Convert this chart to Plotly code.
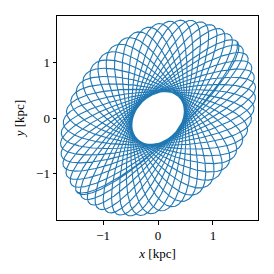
import numpy as np
import plotly.graph_objects as go

# Orbit description (kpc, degrees)
outer_axes = [2.00, 1.52]      # outer envelope semi-axes (along tilt, across tilt)
outer_tilt = [45.0]            # tilt of the orbit's long axis
hole_fraction = [0.27]         # inner hole size relative to the outer envelope
n_loops = [27]                 # number of radial loops
end_orient = [0.0]             # loop orientation (in the unstretched frame) at the end
total_precession = [185.0]     # total precession of the loops

x_ticks = [-1, 0, 1]
y_ticks = [-1, 0, 1]
tick_text = ["\u22121", "0", "1"]

T = 2 * np.pi * n_loops[0]
t = np.linspace(0, T - 0.10, 40000)
phi = np.radians(end_orient[0] - (T - t) / T * total_precession[0])
h = hole_fraction[0]
# precessing ellipse in the round frame
u = np.cos(t) * np.cos(phi) - h * np.sin(t) * np.sin(phi)
v = np.cos(t) * np.sin(phi) + h * np.sin(t) * np.cos(phi)
# stretch and tilt
u *= outer_axes[0]
v *= outer_axes[1]
tr = np.radians(outer_tilt[0])
x = u * np.cos(tr) - v * np.sin(tr)
y = u * np.sin(tr) + v * np.cos(tr)

fig = go.Figure()
fig.add_trace(go.Scatter(x=x, y=y, mode="lines",
                         line=dict(color="#1f77b4", width=1.1),
                         hoverinfo="skip", showlegend=False))

font = dict(family="Liberation Serif, DejaVu Serif, serif", size=13, color="#000000")
axis_common = dict(showgrid=False, zeroline=False, showline=True, linecolor="black",
                   linewidth=1, mirror=True, ticks="outside", ticklen=3.5,
                   tickwidth=0.8, tickcolor="black", tickfont=font, automargin=False)

fig.update_layout(
    width=274, height=274,
    margin=dict(l=57, r=16, t=16, b=54, pad=0),
    paper_bgcolor="white", plot_bgcolor="white",
    font=font,
    xaxis=dict(range=[-1.84, 1.82], tickvals=x_ticks, ticktext=tick_text,
               title=dict(text="<i>x</i> [kpc]", font=font, standoff=6), **axis_common),
    yaxis=dict(range=[-1.85, 1.85], tickvals=y_ticks, ticktext=tick_text,
               title=dict(text="<i>y</i> [kpc]", font=font, standoff=8), **axis_common),
)

fig.write_html("out.html", config={"displayModeBar": False},
               post_script="document.body.style.margin='0';document.body.style.overflow='hidden';")
